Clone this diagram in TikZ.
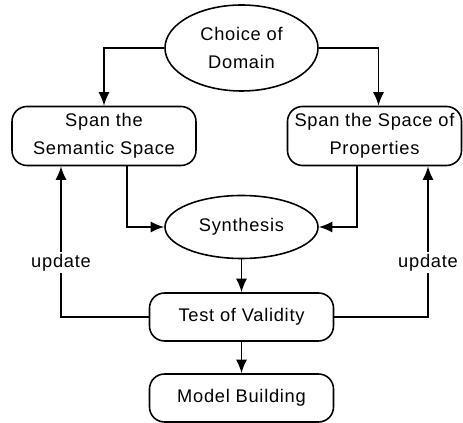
\documentclass[tikz,border=0pt]{standalone}
\usepackage{fontspec}
\setmainfont[LetterSpace=4]{Liberation Sans}
\usetikzlibrary{arrows.meta,shapes.geometric}
\begin{document}
\begin{tikzpicture}[font=\fontsize{10.4}{16}\selectfont, >={Latex[length=2.7mm,width=2.2mm]},
    line width=0.9pt,
    oval/.style={draw, ellipse, minimum width=3.06cm, align=center, inner sep=0pt},
    stage/.style={draw, rounded corners=0.3cm, minimum width=3.68cm, align=center, inner sep=1pt},
    lbl/.style={fill=white, inner sep=1pt}]
  \useasboundingbox (0,0) rectangle (9.26,8.46);
  % nodes of the flow
  \node[oval, minimum height=1.72cm] (choice) at (4.83,7.50) {Choice of\\Domain};
  \node[stage, minimum height=1.18cm] (sem) at (2.08,5.74) {Span the\\Semantic Space};
  \node[stage, minimum height=1.18cm, minimum width=3.48cm] (prop) at (7.49,5.74) {Span the Space of\\Properties};
  \node[oval, minimum height=1.26cm] (syn) at (4.83,3.92) {Synthesis};
  \node[stage, minimum height=0.96cm] (test) at (4.83,2.12) {Test of Validity};
  \node[stage, minimum height=0.96cm] (model) at (4.83,0.50) {Model Building};
  % connectors
  \draw[->] (choice.west) -| (sem.north);
  \draw[->] (choice.east) -| ([xshift=0.08cm]prop.north);
  \draw[->] ([xshift=0.46cm]sem.south) |- (syn.west);
  \draw[->] ([xshift=-0.35cm]prop.south) |- (syn.east);
  \draw[->] (syn) -- (test);
  \draw[->] (test) -- (model);
  \draw[->] (test.west) -| node[lbl, pos=0.68] {update} ([xshift=-0.86cm]sem.south);
  \draw[->] (test.east) -| node[lbl, pos=0.68] {update} ([xshift=1.07cm]prop.south);
\end{tikzpicture}
\end{document}
